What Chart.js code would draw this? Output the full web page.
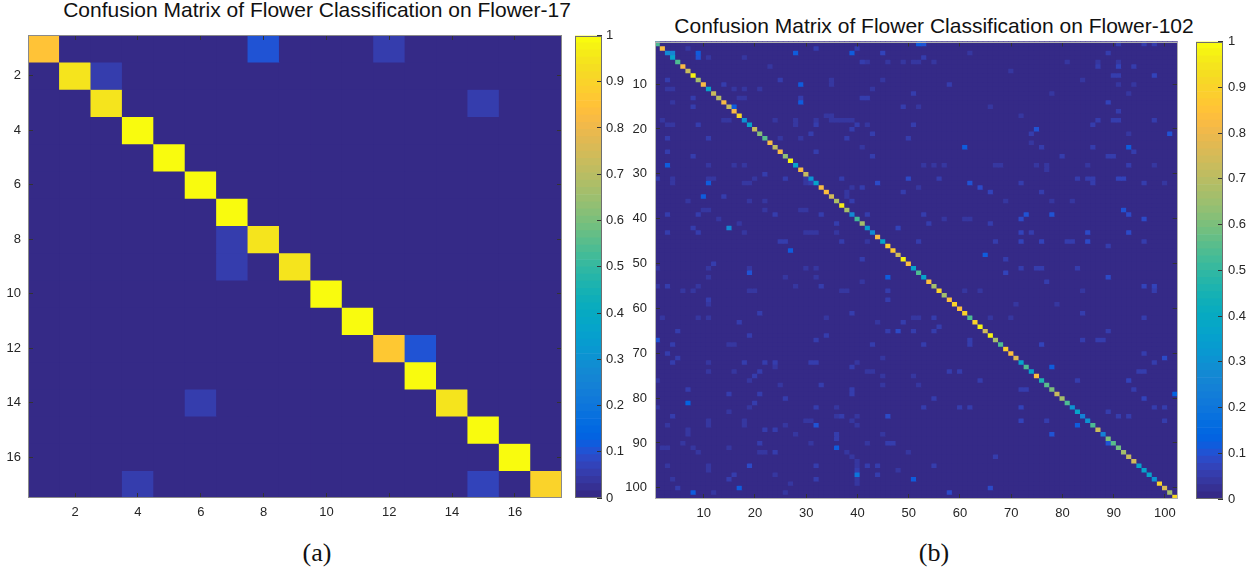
<!DOCTYPE html>
<html>
<head>
<meta charset="utf-8">
<title>Confusion matrices - Flower-17 / Flower-102</title>
<script src="https://cdn.jsdelivr.net/npm/chart.js@4.4.1/dist/chart.umd.min.js"></script>
<style>
    html, body { margin: 0; padding: 0; background: #fff; }
    body { position: relative; width: 1256px; height: 574px; overflow: hidden; font-family: "Liberation Sans", Arial, sans-serif; }
    canvas { position: absolute; top: 0; }
    .title { position: absolute; width: 600px; font-size: 21px; line-height: 21px; color: #111; text-align: center; white-space: nowrap; }
    .caption { position: absolute; width: 100px; font-family: "Liberation Serif", "Times New Roman", serif; font-size: 26px; line-height: 26px; color: #111; text-align: center; }
</style>
</head>
<body>
<div class="title" style="left:17px; top:-1px">Confusion Matrix of Flower Classification on Flower-17</div>
<div class="title" style="left:634px; top:15px">Confusion Matrix of Flower Classification on Flower-102</div>

<canvas id="cm17" width="566" height="528" style="left:0"></canvas>
<canvas id="cb17" width="62" height="528" style="left:570px"></canvas>
<canvas id="cm102" width="568" height="529" style="left:620px"></canvas>
<canvas id="cb102" width="66" height="529" style="left:1190px"></canvas>

<div class="caption" style="left:267px; top:540px">(a)</div>
<div class="caption" style="left:884px; top:540px">(b)</div>

<script>
// ===== DATA =====

// Flower-17: diagonal (per-class accuracy) and off-diagonal confusions [true, predicted, rate]
const diag17 = [0.85, 0.94, 0.94, 1, 1, 1, 1, 0.95, 0.95, 1, 1, 0.86, 1, 0.94, 1, 1, 0.9];
const off17 = [
    [1, 8, 0.1], [1, 12, 0.055], [2, 3, 0.055], [3, 15, 0.055], [8, 7, 0.055], [9, 7, 0.055],
    [12, 13, 0.1], [14, 6, 0.055], [17, 4, 0.055], [17, 15, 0.065]
];
const ticks17 = [2, 4, 6, 8, 10, 12, 14, 16];

// Flower-102: diagonal read row by row
const diag102 = [
    0.54, 0.82, 0.27, 0.37, 0.54, 0.82, 0.73, 0.97, 0.66, 0.82,
    0.37, 0.73, 0.70, 0.82, 0.73, 0.82, 0.92, 0.30, 0.37, 0.73,
    0.62, 0.56, 0.82, 0.71, 0.82, 0.64, 0.97, 0.37, 0.82, 0.73,
    0.30, 0.37, 0.82, 0.84, 0.74, 0.68, 0.96, 0.66, 0.28, 0.52,
    0.66, 0.34, 0.27, 0.82, 0.37, 0.88, 0.86, 0.74, 0.97, 0.84,
    0.37, 0.54, 0.37, 0.84, 0.66, 0.90, 0.66, 0.84, 0.90, 0.84,
    0.90, 0.54, 0.90, 0.97, 0.74, 0.97, 0.66, 0.54, 0.88, 0.84,
    0.78, 0.37, 0.54, 0.37, 0.84, 0.46, 0.56, 0.60, 0.73, 0.66,
    0.54, 0.30, 0.37, 0.24, 0.30, 0.54, 0.73, 0.24, 0.60, 0.56,
    0.58, 0.66, 0.73, 0.74, 0.37, 0.36, 0.37, 0.30, 0.90, 0.76,
    0.66, 0.92
];
// Flower-102: visible off-diagonal confusions [true, predicted, rate]
const off102 = [
    // brighter specks
    [1, 52, 0.12], [1, 53, 0.1], [3, 4, 0.26], [3, 9, 0.12], [4, 9, 0.1], [3, 28, 0.11], [3, 39, 0.11],
    [10, 29, 0.12], [13, 29, 0.06], [14, 29, 0.11], [15, 16, 0.11], [28, 3, 0.11], [32, 11, 0.11],
    [35, 10, 0.12], [42, 15, 0.27], [47, 27, 0.11], [52, 19, 0.1], [53, 46, 0.12], [67, 1, 0.1],
    [81, 7, 0.13], [86, 32, 0.1], [21, 101, 0.1], [20, 75, 0.1], [24, 61, 0.11], [24, 93, 0.11],
    [32, 62, 0.1], [39, 73, 0.1], [39, 78, 0.1], [38, 92, 0.1], [39, 93, 0.09], [45, 85, 0.09],
    [48, 65, 0.12], [73, 78, 0.11], [79, 102, 0.13], [86, 83, 0.12], [88, 78, 0.1], [98, 51, 0.12],
    [90, 89, 0.1], [101, 8, 0.11], [100, 17, 0.12], [91, 36, 0.11], [97, 40, 0.2],
    // medium
    [5, 41, 0.05], [13, 8, 0.06], [19, 9, 0.05], [31, 37, 0.06], [2, 32, 0.05], [50, 12, 0.06],
    [70, 3, 0.06], [65, 48, 0.08], [72, 18, 0.06], [74, 21, 0.06], [78, 39, 0.06], [32, 44, 0.08],
    [31, 50, 0.08], [53, 89, 0.08], [71, 100, 0.08], [40, 96, 0.08], [40, 72, 0.08], [84, 46, 0.08],
    [101, 58, 0.08], [100, 66, 0.08], [93, 67, 0.06], [54, 77, 0.06], [96, 40, 0.05], [95, 19, 0.08],
    [92, 24, 0.06], [95, 32, 0.06], [98, 32, 0.05], [3, 89, 0.06], [16, 91, 0.05], [18, 98, 0.05],
    [1, 96, 0.05], [1, 98, 0.05], [1, 91, 0.06],
    // faint, upper left
    [2, 7, 0.04], [4, 11, 0.04], [4, 18, 0.035], [6, 23, 0.04], [9, 3, 0.05], [11, 3, 0.04], [11, 4, 0.04],
    [14, 4, 0.04], [15, 8, 0.05], [10, 14, 0.05], [11, 16, 0.04], [11, 18, 0.04], [13, 17, 0.04],
    [13, 18, 0.04], [11, 21, 0.035], [9, 25, 0.05], [9, 35, 0.04], [10, 35, 0.04], [11, 43, 0.04],
    [13, 41, 0.05], [18, 2, 0.035], [19, 3, 0.04], [19, 4, 0.04], [18, 14, 0.035], [18, 15, 0.035],
    [18, 24, 0.04], [18, 28, 0.04], [19, 28, 0.04], [18, 32, 0.04], [19, 32, 0.05], [18, 35, 0.035],
    [18, 36, 0.035], [18, 37, 0.035], [18, 38, 0.04], [18, 39, 0.04], [17, 34, 0.035], [21, 31, 0.06],
    [20, 39, 0.06], [19, 42, 0.04], [21, 43, 0.06], [22, 3, 0.06], [22, 11, 0.05], [22, 25, 0.04],
    [22, 29, 0.04], [22, 38, 0.06], [25, 3, 0.06], [26, 8, 0.06], [25, 32, 0.05], [26, 43, 0.06],
    [24, 41, 0.04], [28, 11, 0.04], [28, 16, 0.04], [28, 18, 0.04], [30, 22, 0.06], [31, 11, 0.04],
    [31, 12, 0.04], [31, 1, 0.05], [31, 4, 0.04], [32, 4, 0.04], [32, 18, 0.035], [32, 19, 0.035],
    [31, 20, 0.04], [31, 26, 0.05], [31, 30, 0.04], [32, 30, 0.04], [32, 31, 0.05], [34, 38, 0.04],
    [35, 38, 0.04], [36, 39, 0.05], [33, 41, 0.05], [35, 14, 0.05], [36, 19, 0.04], [36, 22, 0.04],
    [38, 10, 0.035], [38, 11, 0.035], [39, 3, 0.06], [39, 9, 0.06], [40, 13, 0.04], [39, 24, 0.05],
    [38, 22, 0.04], [38, 29, 0.035], [38, 30, 0.035], [39, 33, 0.05], [41, 36, 0.05], [39, 42, 0.05],
    [42, 8, 0.05], [43, 9, 0.05], [41, 17, 0.04], [43, 3, 0.05], [43, 18, 0.04], [45, 25, 0.06],
    [45, 26, 0.06], [43, 30, 0.035], [43, 31, 0.035], [43, 32, 0.035], [45, 37, 0.06], [45, 42, 0.04],
    // faint, lower left
    [22, 50, 0.06], [33, 39, 0.04], [34, 49, 0.06], [33, 52, 0.04], [36, 7, 0.035], [43, 36, 0.04],
    [49, 41, 0.06], [51, 11, 0.04], [53, 11, 0.04], [51, 1, 0.04], [51, 19, 0.04], [51, 30, 0.04],
    [51, 32, 0.04], [53, 26, 0.04], [53, 32, 0.04], [54, 41, 0.04], [55, 1, 0.04], [55, 3, 0.05],
    [55, 9, 0.04], [55, 28, 0.04], [55, 33, 0.05], [56, 46, 0.05], [58, 46, 0.05], [56, 6, 0.035],
    [56, 8, 0.035], [56, 19, 0.035], [56, 20, 0.035], [56, 37, 0.035], [56, 38, 0.035], [58, 11, 0.05],
    [59, 11, 0.04], [61, 21, 0.06], [61, 39, 0.05], [62, 2, 0.04], [62, 9, 0.04], [62, 11, 0.04],
    [62, 34, 0.04], [63, 17, 0.05], [63, 44, 0.04], [63, 49, 0.05], [65, 5, 0.05], [65, 46, 0.06],
    [65, 51, 0.05], [65, 55, 0.06], [66, 19, 0.05], [66, 34, 0.05], [68, 15, 0.04], [68, 16, 0.04],
    [68, 4, 0.05], [67, 32, 0.06], [68, 43, 0.05], [71, 5, 0.05], [72, 4, 0.05], [72, 11, 0.04],
    [72, 22, 0.06], [72, 24, 0.05], [73, 24, 0.04], [72, 31, 0.05], [72, 32, 0.05], [72, 40, 0.04],
    [71, 45, 0.04], [74, 11, 0.04], [74, 16, 0.04], [73, 39, 0.06], [74, 42, 0.04], [74, 43, 0.04],
    [75, 45, 0.04], [77, 45, 0.04], [76, 1, 0.04], [76, 19, 0.04], [75, 20, 0.05], [77, 25, 0.04],
    [77, 33, 0.05], [75, 51, 0.04], [78, 7, 0.05], [79, 39, 0.05], [79, 21, 0.05], [79, 15, 0.06],
    [80, 26, 0.06], [82, 1, 0.04], [83, 15, 0.04], [82, 19, 0.04], [81, 20, 0.05], [82, 32, 0.05],
    [82, 36, 0.04], [84, 36, 0.04], [84, 37, 0.06], [84, 40, 0.04], [84, 4, 0.05], [85, 11, 0.04],
    [86, 11, 0.04], [85, 18, 0.04], [86, 18, 0.04], [85, 30, 0.04], [85, 31, 0.04], [87, 22, 0.05],
    [87, 24, 0.05], [86, 3, 0.04],
    // faint, right half
    [21, 74, 0.05], [23, 74, 0.04], [24, 76, 0.05], [26, 80, 0.06], [24, 86, 0.05], [26, 89, 0.05],
    [26, 90, 0.05], [25, 94, 0.05], [28, 53, 0.035], [28, 55, 0.035], [28, 57, 0.035], [28, 67, 0.035],
    [28, 68, 0.035], [28, 75, 0.035], [28, 77, 0.035], [29, 77, 0.035], [28, 85, 0.035], [28, 93, 0.05],
    [28, 98, 0.035], [31, 56, 0.06], [31, 83, 0.06], [31, 85, 0.06], [31, 86, 0.06], [32, 86, 0.06],
    [31, 91, 0.07], [31, 92, 0.07], [32, 96, 0.06], [32, 100, 0.04], [32, 72, 0.05], [33, 64, 0.08],
    [34, 66, 0.07], [34, 76, 0.06], [36, 69, 0.035], [36, 78, 0.035], [36, 82, 0.035], [39, 53, 0.06],
    [40, 57, 0.035], [40, 61, 0.035], [40, 62, 0.035], [41, 54, 0.06], [41, 66, 0.05], [42, 48, 0.07],
    [43, 72, 0.07], [45, 72, 0.07], [43, 74, 0.05], [43, 85, 0.08], [43, 93, 0.08], [45, 52, 0.06],
    [45, 67, 0.05], [45, 76, 0.07], [45, 81, 0.06], [45, 82, 0.06], [45, 96, 0.06], [46, 89, 0.05],
    [49, 69, 0.05], [51, 72, 0.05], [51, 75, 0.05], [51, 76, 0.05], [51, 83, 0.05], [52, 69, 0.07],
    [55, 96, 0.07], [55, 98, 0.07], [56, 98, 0.05], [56, 61, 0.035], [56, 64, 0.035], [56, 84, 0.035],
    [59, 71, 0.035], [59, 79, 0.035], [61, 84, 0.05], [62, 51, 0.035], [62, 52, 0.035], [62, 55, 0.05],
    [62, 66, 0.035], [62, 70, 0.035], [62, 96, 0.05], [64, 56, 0.05], [65, 89, 0.05], [67, 87, 0.05],
    [67, 88, 0.05], [67, 62, 0.05], [68, 62, 0.05], [68, 53, 0.06], [68, 76, 0.07], [67, 84, 0.05],
    [70, 96, 0.06], [72, 98, 0.06], [74, 58, 0.05], [74, 60, 0.05], [74, 95, 0.05], [74, 96, 0.05],
    [76, 64, 0.06], [76, 93, 0.07], [76, 83, 0.05], [77, 52, 0.04], [78, 72, 0.05], [78, 73, 0.05],
    [78, 94, 0.05], [80, 96, 0.07], [80, 55, 0.05], [82, 60, 0.06], [82, 62, 0.06], [82, 72, 0.07],
    [82, 53, 0.05], [82, 98, 0.06], [82, 100, 0.06], [85, 72, 0.07], [85, 77, 0.06], [83, 89, 0.05],
    [84, 91, 0.05], [84, 93, 0.05], [85, 100, 0.05],
    // faint, bottom rows
    [87, 7, 0.035], [88, 7, 0.035], [86, 26, 0.035], [88, 28, 0.035], [88, 36, 0.05], [89, 36, 0.05],
    [85, 39, 0.035], [86, 40, 0.035], [88, 45, 0.035], [91, 2, 0.035], [91, 3, 0.035], [90, 6, 0.035],
    [91, 8, 0.035], [92, 9, 0.035], [91, 15, 0.035], [90, 21, 0.05], [92, 21, 0.035], [92, 22, 0.035],
    [90, 31, 0.035], [92, 38, 0.035], [93, 39, 0.035], [90, 42, 0.035], [90, 46, 0.05], [90, 47, 0.05],
    [92, 50, 0.035], [95, 3, 0.035], [95, 11, 0.035], [96, 11, 0.035], [97, 16, 0.05], [98, 15, 0.05],
    [98, 4, 0.035], [97, 24, 0.035], [99, 27, 0.035], [94, 40, 0.035], [95, 40, 0.04], [98, 40, 0.035],
    [95, 42, 0.06], [95, 44, 0.06], [97, 44, 0.05], [96, 48, 0.035], [95, 55, 0.05], [100, 5, 0.05],
    [101, 12, 0.035], [101, 26, 0.035], [99, 40, 0.035],
    // faint, top rows on the right
    [2, 40, 0.05], [3, 45, 0.07], [5, 42, 0.035], [5, 46, 0.035], [5, 49, 0.035], [5, 51, 0.035],
    [5, 52, 0.035], [5, 55, 0.035], [4, 53, 0.05], [9, 45, 0.04], [13, 42, 0.06], [12, 51, 0.06],
    [15, 52, 0.04], [15, 49, 0.06], [17, 35, 0.035], [19, 40, 0.05], [19, 51, 0.06], [5, 87, 0.035],
    [5, 91, 0.04], [6, 94, 0.05], [6, 87, 0.06], [6, 91, 0.07], [8, 90, 0.06], [8, 91, 0.06],
    [8, 98, 0.07], [10, 91, 0.04], [10, 94, 0.04], [12, 93, 0.04], [14, 89, 0.07], [18, 87, 0.05],
    [18, 90, 0.05], [18, 91, 0.05], [19, 86, 0.05], [21, 93, 0.035], [3, 62, 0.04], [7, 70, 0.035],
    [10, 58, 0.05], [12, 78, 0.04], [15, 66, 0.035], [5, 81, 0.04], [17, 72, 0.04], [9, 84, 0.035]
];
const ticks102 = [10, 20, 30, 40, 50, 60, 70, 80, 90, 100];

// colorbar tick labels
const cbTicks = [0, 0.1, 0.2, 0.3, 0.4, 0.5, 0.6, 0.7, 0.8, 0.9, 1];

// ===== COLORMAP (MATLAB parula, 64 entries) =====
const PARULA = [
    [0.2081,0.1663,0.5292],[0.2116,0.1898,0.5777],[0.2123,0.2138,0.6270],[0.2081,0.2386,0.6771],
    [0.1959,0.2645,0.7279],[0.1707,0.2919,0.7792],[0.1253,0.3242,0.8303],[0.0591,0.3598,0.8683],
    [0.0117,0.3875,0.8820],[0.0060,0.4086,0.8828],[0.0165,0.4266,0.8786],[0.0329,0.4430,0.8720],
    [0.0498,0.4586,0.8641],[0.0629,0.4737,0.8554],[0.0723,0.4887,0.8467],[0.0779,0.5040,0.8384],
    [0.0793,0.5200,0.8312],[0.0749,0.5375,0.8263],[0.0641,0.5570,0.8240],[0.0488,0.5772,0.8228],
    [0.0343,0.5966,0.8199],[0.0265,0.6137,0.8135],[0.0239,0.6287,0.8038],[0.0231,0.6418,0.7913],
    [0.0228,0.6535,0.7768],[0.0267,0.6642,0.7607],[0.0384,0.6743,0.7436],[0.0590,0.6838,0.7254],
    [0.0843,0.6928,0.7062],[0.1133,0.7015,0.6859],[0.1453,0.7098,0.6646],[0.1801,0.7177,0.6424],
    [0.2178,0.7250,0.6193],[0.2586,0.7317,0.5954],[0.3022,0.7376,0.5712],[0.3482,0.7424,0.5473],
    [0.3953,0.7459,0.5244],[0.4420,0.7481,0.5033],[0.4871,0.7491,0.4840],[0.5300,0.7491,0.4661],
    [0.5709,0.7485,0.4494],[0.6099,0.7473,0.4337],[0.6473,0.7456,0.4188],[0.6834,0.7435,0.4044],
    [0.7184,0.7411,0.3905],[0.7525,0.7384,0.3768],[0.7858,0.7356,0.3633],[0.8185,0.7327,0.3498],
    [0.8507,0.7299,0.3360],[0.8824,0.7274,0.3217],[0.9139,0.7258,0.3063],[0.9450,0.7261,0.2886],
    [0.9739,0.7314,0.2666],[0.9938,0.7455,0.2403],[0.9990,0.7653,0.2164],[0.9955,0.7861,0.1967],
    [0.9880,0.8066,0.1794],[0.9789,0.8271,0.1633],[0.9697,0.8481,0.1475],[0.9626,0.8705,0.1309],
    [0.9589,0.8949,0.1132],[0.9598,0.9218,0.0948],[0.9661,0.9514,0.0755],[0.9763,0.9831,0.0538]
];

function rgb(c) {
    return `rgb(${Math.round(c[0] * 255)},${Math.round(c[1] * 255)},${Math.round(c[2] * 255)})`;
}

function parula(v) {
    const i = Math.max(0, Math.min(63, Math.floor(v * 64)));
    return rgb(PARULA[i]);
}

// ===== HELPERS =====

const TICK_FONT = { family: '"Liberation Sans", Arial, sans-serif', size: 13 };
const TICK_COLOR = '#262626';

// zero matrix with the read diagonal and off-diagonal cells put in
function buildMatrix(diag, off) {
    const n = diag.length;
    const m = [];
    for (let r = 0; r < n; r++) {
        m.push(new Array(n).fill(0));
        m[r][r] = diag[r];
    }
    off.forEach(([r, c, v]) => {
        if (r !== c) m[r - 1][c - 1] = v;
    });
    return m;
}

// one floating-bar dataset per matrix row
function matrixDatasets(m) {
    return m.map((row, r) => ({
        data: row.map((v, c) => ({ x: c + 1, y: [r + 0.5, r + 1.5] })),
        backgroundColor: row.map(parula),
        borderWidth: 0,
        grouped: false,
        barPercentage: 1,
        categoryPercentage: 1
    }));
}

// fill chart area with the colormap's zero colour, so no seams show
const cellBackground = {
    id: 'cellBackground',
    beforeDatasetsDraw(chart) {
        const { ctx, chartArea: a } = chart;
        ctx.save();
        ctx.fillStyle = parula(0);
        ctx.fillRect(a.left, a.top, a.right - a.left, a.bottom - a.top);
        ctx.restore();
    }
};

// box around the axes, matlab style
const frame = {
    id: 'frame',
    afterDraw(chart, args, opts) {
        const { ctx, chartArea: a } = chart;
        ctx.save();
        ctx.strokeStyle = opts.color || '#808080';
        ctx.lineWidth = 1;
        const l = Math.round(a.left) + 0.5, t = Math.round(a.top) + 0.5;
        const r = Math.round(a.right) - 0.5, b = Math.round(a.bottom) - 0.5;
        ctx.strokeRect(l, t, r - l, b - t);
        ctx.restore();
    }
};

// inward tick marks, drawn over the cells
function inwardGrid() {
    return { drawOnChartArea: false, drawTicks: true, tickLength: -5, color: '#333', lineWidth: 1, offset: false, z: 1 };
}

function axis(position, n, tickValues, opts) {
    const horizontal = position === 'top' || position === 'bottom';
    return {
        type: 'linear',
        position,
        min: 0.5,
        max: n + 0.5,
        bounds: 'data',
        beginAtZero: false,
        offset: false,
        reverse: !horizontal,
        grid: inwardGrid(),
        border: { display: false },
        afterBuildTicks: s => { s.ticks = tickValues.map(v => ({ value: v })); },
        ticks: {
            display: opts.labels,
            font: TICK_FONT,
            color: TICK_COLOR,
            padding: opts.padding || 0,
            autoSkip: false,
            maxRotation: 0
        },
        afterFit: s => {
            if (horizontal) s.height = opts.size;
            else s.width = opts.size;
        }
    };
}

function makeMatrix(id, diag, off, tickValues, layout) {
    const m = buildMatrix(diag, off);
    const n = diag.length;
    new Chart(document.getElementById(id), {
        type: 'bar',
        data: { datasets: matrixDatasets(m) },
        options: {
            responsive: false,
            animation: false,
            devicePixelRatio: 1,
            events: [],
            layout: { padding: layout.padding },
            plugins: {
                legend: { display: false },
                tooltip: { enabled: false },
                frame: { color: layout.frameColor }
            },
            scales: {
                x: axis('bottom', n, tickValues, { labels: true, padding: 12, size: 30 }),
                x2: axis('top', n, tickValues, { labels: false, size: 0 }),
                y: axis('left', n, tickValues, { labels: true, padding: layout.yPad, size: layout.yWidth }),
                y2: axis('right', n, tickValues, { labels: false, size: 0 })
            }
        },
        plugins: [cellBackground, frame]
    });
}

function makeColorbar(id, layout) {
    new Chart(document.getElementById(id), {
        type: 'bar',
        data: {
            labels: [''],
            datasets: PARULA.map((c, i) => ({
                data: [[i / 64, (i + 1) / 64]],
                backgroundColor: rgb(c),
                borderWidth: 0,
                grouped: false,
                barPercentage: 1,
                categoryPercentage: 1
            }))
        },
        options: {
            responsive: false,
            animation: false,
            devicePixelRatio: 1,
            events: [],
            layout: { padding: layout.padding },
            plugins: {
                legend: { display: false },
                tooltip: { enabled: false },
                frame: { color: '#6e6e6e' }
            },
            scales: {
                x: { display: false },
                y: {
                    type: 'linear',
                    position: 'right',
                    min: 0,
                    max: 1,
                    bounds: 'data',
                    beginAtZero: false,
                    grid: inwardGrid(),
                    border: { display: false },
                    afterBuildTicks: s => { s.ticks = cbTicks.map(v => ({ value: v })); },
                    ticks: {
                        font: TICK_FONT,
                        color: TICK_COLOR,
                        padding: layout.labelPad,
                        autoSkip: false,
                        callback: v => String(v)
                    },
                    afterFit: s => { s.width = layout.axisWidth; }
                }
            }
        },
        plugins: [frame]
    });
}

// ===== CHARTS =====

makeMatrix('cm17', diag17, off17, ticks17, {
    padding: { top: 35, right: 4, left: 0, bottom: 0 },
    yWidth: 28, yPad: 12, frameColor: '#8a8a8a'
});
makeColorbar('cb17', { padding: { left: 5, top: 35.5, bottom: 30, right: 0 }, axisWidth: 30, labelPad: 9 });

makeMatrix('cm102', diag102, off102, ticks102, {
    padding: { top: 41.5, right: 4, left: 0, bottom: 0 },
    yWidth: 35, yPad: 13, frameColor: '#b0b0b0'
});
makeColorbar('cb102', { padding: { left: 6, top: 41.5, bottom: 30, right: 0 }, axisWidth: 33, labelPad: 10 });
</script>
</body>
</html>
